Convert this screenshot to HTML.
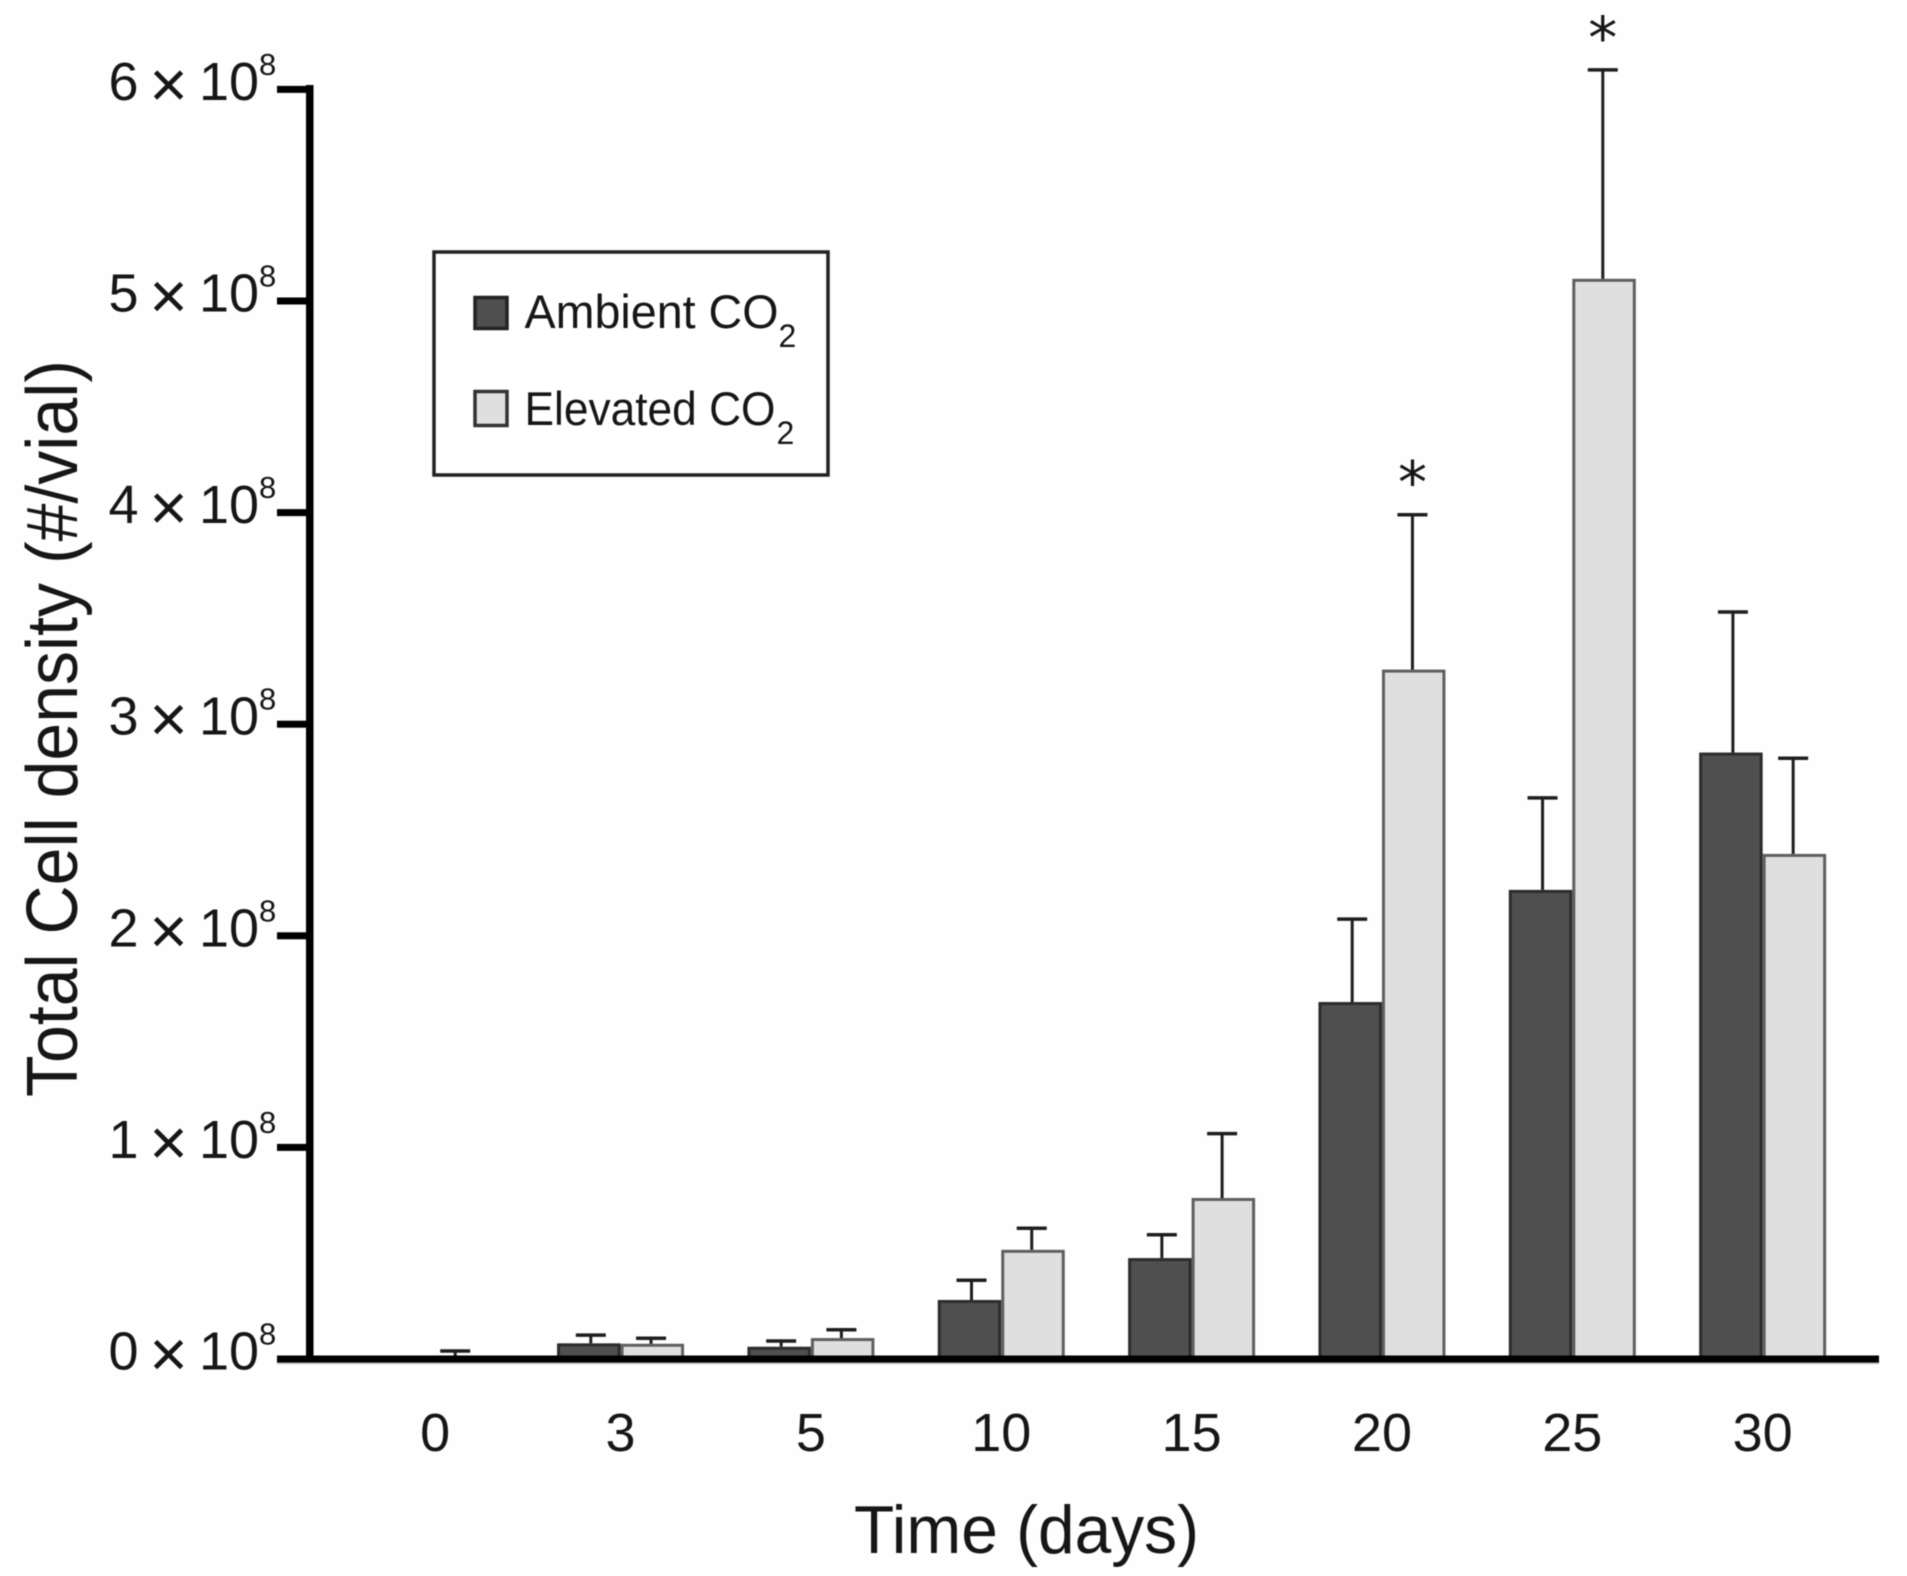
<!DOCTYPE html>
<html lang="en">
<head>
<meta charset="utf-8">
<title>Total Cell density over time</title>
<style>
html,body{margin:0;padding:0;background:#fff;width:1907px;height:1576px;overflow:hidden}
svg{display:block;filter:blur(.45px)}
text{font-family:"Liberation Sans",sans-serif;fill:#161616}
</style>
</head>
<body>
<svg id="chart" xmlns="http://www.w3.org/2000/svg" width="1907" height="1576" viewBox="0 0 1907 1576">
  <rect x="0" y="0" width="1907" height="1576" fill="#fefefe"/>
  <g id="bars"></g>
  <g id="axes"></g>

  <text transform="translate(77,1097) rotate(-90)" font-size="72" textLength="737" lengthAdjust="spacingAndGlyphs">Total Cell density (#/vial)</text>
  <text x="854" y="1553" font-size="68" textLength="345" lengthAdjust="spacingAndGlyphs">Time (days)</text>

  <g>
    <rect x="434" y="252" width="394" height="223" fill="#fff" stroke="#222" stroke-width="3.5"/>
    <rect x="475" y="297.5" width="32" height="31" fill="#4f4f4f" stroke="#222" stroke-width="3.5"/>
    <text x="524.5" y="328" font-size="47" textLength="254" lengthAdjust="spacingAndGlyphs">Ambient CO</text>
    <text x="778.5" y="347" font-size="32">2</text>
    <rect x="475" y="391.5" width="32" height="34" fill="#dfdfdf" stroke="#333" stroke-width="3.5"/>
    <text x="524.5" y="425" font-size="47" textLength="251" lengthAdjust="spacingAndGlyphs">Elevated CO</text>
    <text x="776.5" y="444" font-size="32">2</text>
  </g>
</svg>
<script>
// Chart data, values in units of 10^8 cells per vial
const days = ["0", "3", "5", "10", "15", "20", "25", "30"];
const ambientValues = [0, 0.074, 0.058, 0.279, 0.477, 1.687, 2.217, 2.866];
const ambientErrors = [0, 0.039, 0.027, 0.093, 0.110, 0.392, 0.435, 0.664];
const elevatedValues = [0, 0.072, 0.099, 0.516, 0.761, 3.258, 5.105, 2.387];
const elevatedErrors = [0.038, 0.026, 0.039, 0.102, 0.304, 0.732, 0.987, 0.452];
const elevatedSignificant = [false, false, false, false, false, true, true, false];
const yTicks = [0, 1, 2, 3, 4, 5, 6];

const NS = "http://www.w3.org/2000/svg";
const barsLayer = document.getElementById("bars");
const axesLayer = document.getElementById("axes");

const xScale = i => 430.2 + 190.35 * i;
const yScale = v => 1359 - 211.6 * v;
const BAR_W = 63.5;

function mk(parent, tag, geometry, txt) {
  const el = document.createElementNS(NS, tag);
  for (const k in geometry) el.setAttribute(k, geometry[k]);
  if (txt !== undefined) el.textContent = txt;
  parent.appendChild(el);
  return el;
}

function drawBar(x0, value, fill, stroke, name) {
  const top = yScale(value);
  const base = yScale(0);
  const h = Math.max(0, base - top - 1.5);
  const r = mk(barsLayer, "rect", {x: x0 + 1.5, y: top + 1.5, width: BAR_W - 3, height: h, fill: fill, stroke: stroke, "stroke-width": 3});
  
  
}

function drawError(cx, value, err, name) {
  const top = yScale(value + err);
  const stem = mk(barsLayer, "line", {x1: cx, x2: cx, y1: yScale(value), y2: top, stroke: "#1e1e1e", "stroke-width": 3});
  
  
  const cap = mk(barsLayer, "line", {x1: cx - 15, x2: cx + 15, y1: top, y2: top, stroke: "#1e1e1e", "stroke-width": 3.5});
  
  
}

days.forEach((day, i) => {
  const c = xScale(i);
  drawBar(c - BAR_W, ambientValues[i], "#4f4f4f", "#2c2c2c", "bar-ambient-day-" + day);
  drawBar(c, elevatedValues[i], "#dfdfdf", "#5f5f5f", "bar-elevated-day-" + day);
  drawError(c - BAR_W / 2 + 2, ambientValues[i], ambientErrors[i], "error-ambient-day-" + day);
  const ex = elevatedValues[i] === 0 ? c + 25 : c + 30.5;
  drawError(ex, elevatedValues[i], elevatedErrors[i], "error-elevated-day-" + day);
  if (elevatedSignificant[i]) {
    const capY = yScale(elevatedValues[i] + elevatedErrors[i]);
    const star = mk(barsLayer, "text", {x: ex, y: capY - 12, "font-size": 58, "text-anchor": "middle", style: 'font-family:"DejaVu Sans",sans-serif'}, "*");
    
    
  }
  // x tick label
  const lx = c + (i === 0 ? 5 : 0);
  const lab = mk(axesLayer, "text", {x: lx, y: 1451, "font-size": 54, "text-anchor": "middle"}, day);
  
  
});

// axis lines
const yAxis = mk(axesLayer, "rect", {x: 306, y: 85, width: 7.5, height: 1277, fill: "#000"});


const xShadow = mk(axesLayer, "rect", {x: 277, y: 1362, width: 1602, height: 2, fill: "#b4b4b4"});


const xAxis = mk(axesLayer, "rect", {x: 277, y: 1355.5, width: 1602, height: 7, fill: "#000"});



yTicks.forEach(t => {
  const y = yScale(t);
  const g = mk(axesLayer, "g", {});
  
  
  const mark = mk(g, "rect", {x: 277, y: y - 3.5, width: 32, height: 7, fill: "#000"});
  
  
  const base = y + 10.5;
  const digit = mk(g, "text", {x: 123.5, y: base, "font-size": 54, "text-anchor": "middle"}, String(t));
  
  
  const times = mk(g, "text", {x: 168.5, y: base + 7, "font-size": 66, "text-anchor": "middle"}, "\u00D7");
  
  
  const ten = mk(g, "text", {x: 199, y: base, "font-size": 54}, "10");
  
  
  const exp = mk(g, "text", {x: 259, y: base - 25, "font-size": 31}, "8");
  
  
});
</script>
</body>
</html>
